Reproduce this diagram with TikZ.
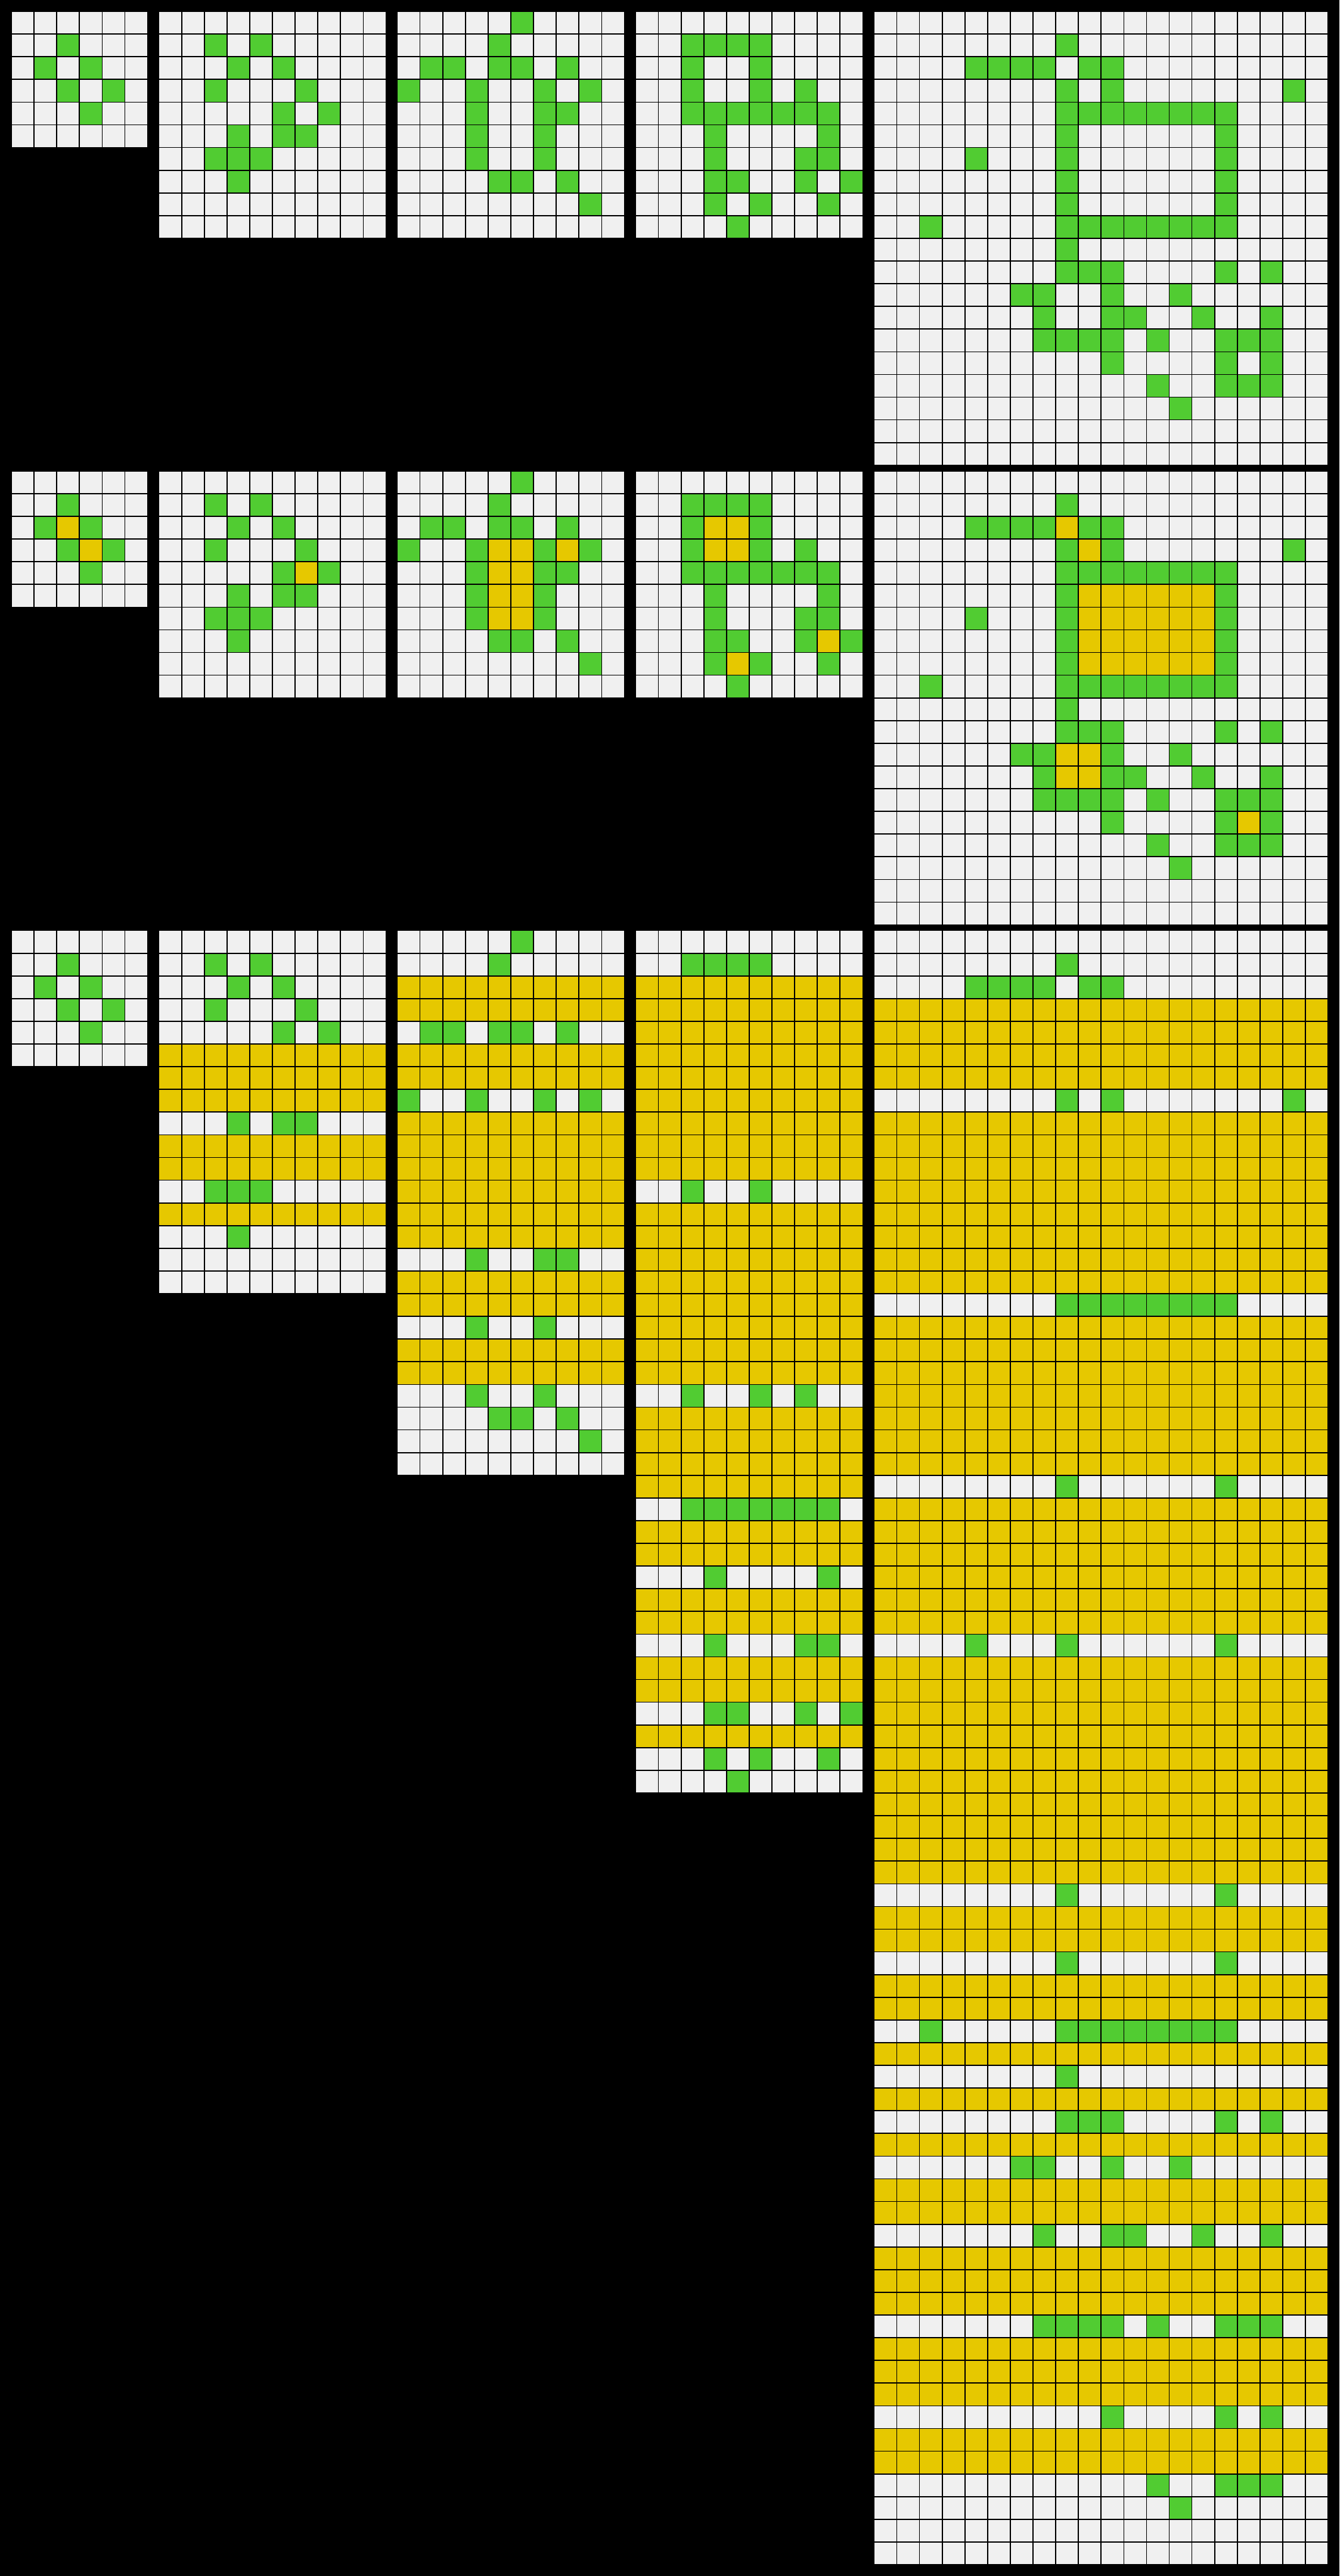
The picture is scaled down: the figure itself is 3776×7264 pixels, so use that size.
\documentclass[tikz,border=0pt]{standalone}
\definecolor{cellbg}{HTML}{F0F0F0}
\definecolor{arcgreen}{HTML}{51CC32}
\definecolor{arcyellow}{HTML}{E6C800}
\tikzset{gridln/.style={draw=black, line width=0.3pt}}
\newcommand{\putbase}[4]{\fill[cellbg] (#1,#2) rectangle ++(#3*64,#4*64);}
\newcommand{\putgreen}[3]{\edef\mylistg{#3}\foreach \gr/\gc in \mylistg {\fill[arcgreen] (#1+\gc*64,#2+\gr*64) rectangle ++(64,64);}}
\newcommand{\putyellow}[3]{\edef\mylisty{#3}\foreach \gr/\gc in \mylisty {\fill[arcyellow] (#1+\gc*64,#2+\gr*64) rectangle ++(64,64);}}
\newcommand{\putyrows}[4]{\foreach \gr in {#4} {\fill[arcyellow] (#1,#2+\gr*64) rectangle ++(#3*64,64);}}
\newcommand{\putlines}[4]{\foreach \gi in {0,...,#3} {\draw[gridln] (#1+\gi*64,#2) -- ++(0,#4*64);}\foreach \gj in {0,...,#4} {\draw[gridln] (#1,#2+\gj*64) -- ++(#3*64,0);}}
% input patterns
\newcommand{\gA}{1/2,2/1,2/3,3/2,3/4,4/3}
\newcommand{\gB}{1/2,1/4,2/3,2/5,3/2,3/6,4/5,4/7,5/3,5/5,5/6,6/2,6/3,6/4,7/3}
\newcommand{\gC}{0/5,1/4,2/1,2/2,2/4,2/5,2/7,3/0,3/3,3/6,3/8,4/3,4/6,4/7,5/3,5/6,6/3,6/6,7/4,7/5,7/7,8/8}
\newcommand{\gD}{1/2,1/3,1/4,1/5,2/2,2/5,3/2,3/5,3/7,4/2,4/3,4/4,4/5,4/6,4/7,4/8,5/3,5/8,6/3,6/7,6/8,7/3,7/4,7/7,7/9,8/3,8/5,8/8,9/4}
\newcommand{\gE}{1/8,2/4,2/5,2/6,2/7,2/9,2/10,3/8,3/10,3/18,4/8,4/9,4/10,4/11,4/12,4/13,4/14,4/15,5/8,5/15,6/4,6/8,6/15,7/8,7/15,8/8,8/15,9/2,9/8,9/9,9/10,9/11,9/12,9/13,9/14,9/15,10/8,11/8,11/9,11/10,11/15,11/17,12/6,12/7,12/10,12/13,13/7,13/10,13/11,13/14,13/17,14/7,14/8,14/9,14/10,14/12,14/15,14/16,14/17,15/10,15/15,15/17,16/12,16/15,16/16,16/17,17/13}
\begin{document}
\begin{tikzpicture}[x=0.1pt,y=-0.1pt]
\fill[black] (0,0) rectangle (3776,7264);
\useasboundingbox (0,0) rectangle (3776,7264);
% ---------- row 1 (inputs) ----------
\putbase{32}{32}{6}{6}\putgreen{32}{32}{\gA}\putlines{32}{32}{6}{6}
\putbase{448}{32}{10}{10}\putgreen{448}{32}{\gB}\putlines{448}{32}{10}{10}
\putbase{1120}{32}{10}{10}\putgreen{1120}{32}{\gC}\putlines{1120}{32}{10}{10}
\putbase{1792}{32}{10}{10}\putgreen{1792}{32}{\gD}\putlines{1792}{32}{10}{10}
\putbase{2464}{32}{20}{20}\putgreen{2464}{32}{\gE}\putlines{2464}{32}{20}{20}
% ---------- row 2 (filled) ----------
\putbase{32}{1328}{6}{6}\putgreen{32}{1328}{\gA}\putyellow{32}{1328}{2/2,3/3}\putlines{32}{1328}{6}{6}
\putbase{448}{1328}{10}{10}\putgreen{448}{1328}{\gB}\putyellow{448}{1328}{4/6}\putlines{448}{1328}{10}{10}
\putbase{1120}{1328}{10}{10}\putgreen{1120}{1328}{\gC}\putyellow{1120}{1328}{3/4,3/5,3/7,4/4,4/5,5/4,5/5,6/4,6/5}\putlines{1120}{1328}{10}{10}
\putbase{1792}{1328}{10}{10}\putgreen{1792}{1328}{\gD}\putyellow{1792}{1328}{2/3,2/4,3/3,3/4,7/8,8/4}\putlines{1792}{1328}{10}{10}
\putbase{2464}{1328}{20}{20}\putgreen{2464}{1328}{\gE}
\putyellow{2464}{1328}{2/8,3/9,5/9,5/10,5/11,5/12,5/13,5/14,6/9,6/10,6/11,6/12,6/13,6/14,7/9,7/10,7/11,7/12,7/13,7/14,8/9,8/10,8/11,8/12,8/13,8/14,12/8,12/9,13/8,13/9,15/16}
\putlines{2464}{1328}{20}{20}
% ---------- row 3 (expanded) ----------
\putbase{32}{2624}{6}{6}\putgreen{32}{2624}{\gA}\putlines{32}{2624}{6}{6}
\putbase{448}{2624}{10}{16}
\putgreen{448}{2624}{1/2,1/4,2/3,2/5,3/2,3/6,4/5,4/7,8/3,8/5,8/6,11/2,11/3,11/4,13/3}
\putyrows{448}{2624}{10}{5,6,7,9,10,12}
\putlines{448}{2624}{10}{16}
\putbase{1120}{2624}{10}{24}
\putgreen{1120}{2624}{0/5,1/4,4/1,4/2,4/4,4/5,4/7,7/0,7/3,7/6,7/8,14/3,14/6,14/7,17/3,17/6,20/3,20/6,21/4,21/5,21/7,22/8}
\putyrows{1120}{2624}{10}{2,3,5,6,8,9,10,11,12,13,15,16,18,19}
\putlines{1120}{2624}{10}{24}
\putbase{1792}{2624}{10}{38}
\putgreen{1792}{2624}{1/2,1/3,1/4,1/5,11/2,11/5,20/2,20/5,20/7,25/2,25/3,25/4,25/5,25/6,25/7,25/8,28/3,28/8,31/3,31/7,31/8,34/3,34/4,34/7,34/9,36/3,36/5,36/8,37/4}
\putyrows{1792}{2624}{10}{2,3,4,5,6,7,8,9,10,12,13,14,15,16,17,18,19,21,22,23,24,26,27,29,30,32,33,35}
\putlines{1792}{2624}{10}{38}
\putbase{2464}{2624}{20}{72}
\putgreen{2464}{2624}{1/8,2/4,2/5,2/6,2/7,2/9,2/10,7/8,7/10,7/18,16/8,16/9,16/10,16/11,16/12,16/13,16/14,16/15,24/8,24/15,31/4,31/8,31/15,42/8,42/15,45/8,45/15,48/2,48/8,48/9,48/10,48/11,48/12,48/13,48/14,48/15,50/8,52/8,52/9,52/10,52/15,52/17,54/6,54/7,54/10,54/13,57/7,57/10,57/11,57/14,57/17,61/7,61/8,61/9,61/10,61/12,61/15,61/16,61/17,65/10,65/15,65/17,68/12,68/15,68/16,68/17,69/13}
\putyrows{2464}{2624}{20}{3,4,5,6,8,9,10,11,12,13,14,15,17,18,19,20,21,22,23,25,26,27,28,29,30,32,33,34,35,36,37,38,39,40,41,43,44,46,47,49,51,53,55,56,58,59,60,62,63,64,66,67}
\putlines{2464}{2624}{20}{72}
\end{tikzpicture}
\end{document}
